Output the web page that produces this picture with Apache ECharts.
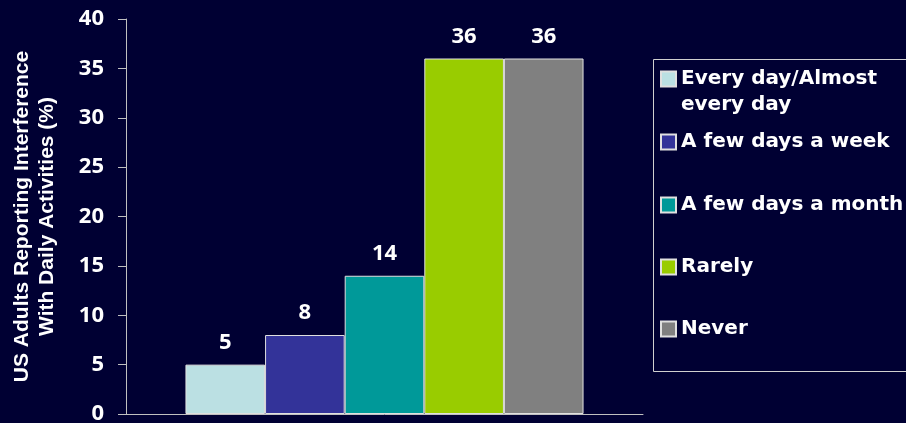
<!DOCTYPE html>
<html><head><meta charset="utf-8">
<script src="https://cdn.jsdelivr.net/npm/echarts@6/dist/echarts.min.js"></script>
<style>html,body{margin:0;padding:0;background:#000033;}#c{width:906px;height:423px;}</style>
</head><body><div id="c"></div>
<script>
const categories = [''];
const seriesNames = ['Every day/Almost every day', 'A few days a week', 'A few days a month', 'Rarely', 'Never'];
const seriesValues = [5, 8, 14, 36, 36];
const seriesColors = ['#bbe0e3', '#333399', '#009999', '#99cc00', '#808080'];
const yTicks = [0, 5, 10, 15, 20, 25, 30, 35, 40];

const FONT = 'Open Sans';
const chart = echarts.init(document.getElementById('c'));
const legendTops = [40, 129, 192, 254, 316];
const legends = seriesNames.map((n, i) => ({
  data: [n],
  left: 660,
  top: legendTops[i],
  padding: 0,
  orient: 'vertical',
  itemWidth: 15,
  itemHeight: 15,
  itemGap: 0,
  icon: 'rect',
  selectedMode: false,
  formatter: i === 0 ? ' \nEvery day/Almost\nevery day' : '{name}',
  textStyle: {
    color: '#ffffff',
    fontFamily: 'DejaVu Sans',
    fontWeight: 'bold',
    fontSize: 20,
    lineHeight: 26
  }
}));

chart.setOption({
  backgroundColor: '#000033',
  animation: false,
  grid: { left: 126, top: 19, width: 517, bottom: 9, containLabel: false, outerBoundsMode: 'none' },
  legend: legends,
  xAxis: {
    type: 'category',
    data: categories,
    axisLine: { lineStyle: { color: '#c0c0c0', width: 1 } },
    axisTick: { show: false },
    axisLabel: { show: false }
  },
  yAxis: {
    type: 'value',
    min: yTicks[0],
    max: yTicks[yTicks.length - 1],
    interval: 5,
    name: 'US Adults Reporting Interference\nWith Daily Activities (%)',
    nameLocation: 'middle',
    nameGap: 66,
    nameTextStyle: {
      color: '#ffffff', fontFamily: 'Liberation Sans', fontWeight: 'bold',
      fontSize: 21, lineHeight: 25
    },
    axisLine: { show: true, lineStyle: { color: '#c0c0c0', width: 1 } },
    axisTick: { show: true, length: 8, lineStyle: { color: '#c0c0c0' } },
    splitLine: { show: false },
    axisLabel: {
      color: '#ffffff', fontFamily: FONT, fontWeight: 'bold',
      fontSize: 22, margin: 22
    }
  },
  series: seriesNames.map((n, i) => ({
    name: n,
    type: 'bar',
    data: [seriesValues[i]],
    barGap: 0,
    barCategoryGap: '23%',
    itemStyle: { color: seriesColors[i], borderColor: '#e0e0e0', borderWidth: 1 },
    label: {
      show: true, position: 'top', distance: 11,
      color: '#ffffff', fontFamily: FONT, fontWeight: 'bold', fontSize: 22
    }
  })),
  graphic: [{
    type: 'rect',
    shape: { x: 653.5, y: 59.5, width: 300, height: 312 },
    style: { fill: 'none', stroke: '#d0d0d0', lineWidth: 1 },
    silent: true
  }]
});
</script></body></html>
